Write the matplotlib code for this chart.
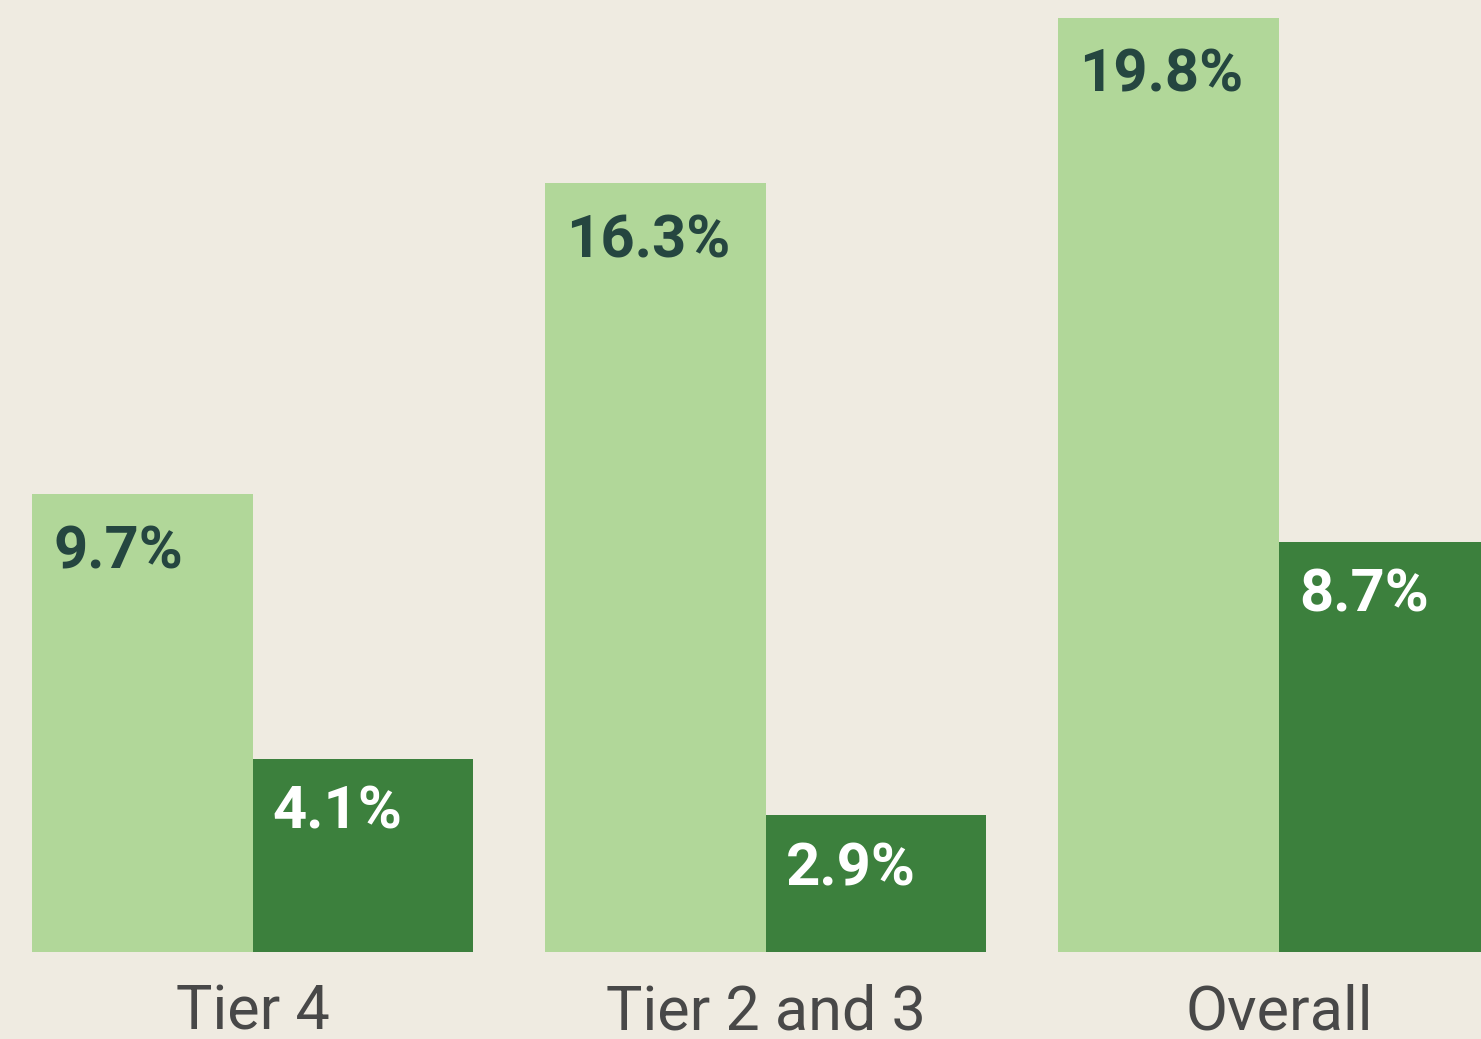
import numpy as np
import matplotlib.pyplot as plt

categories = ['Tier 4', 'Tier 2 and 3', 'Overall']
light_vals = [9.7, 16.3, 19.8]
dark_vals = [4.1, 2.9, 8.7]

bg = '#efebe1'
light_col = '#b1d799'
dark_col = '#3c803d'

fig = plt.figure(figsize=(14.81, 10.39), dpi=100, facecolor=bg)
ax = fig.add_axes([0, 87/1039, 1, 952/1039])
ax.set_facecolor(bg)

x = np.arange(len(categories))
w = 0.43
ax.bar(x - w, light_vals, width=w, align='edge', color=light_col, linewidth=0)
ax.bar(x, dark_vals, width=w, align='edge', color=dark_col, linewidth=0)

for i in range(len(categories)):
    ax.annotate(f'{light_vals[i]}%', xy=(x[i] - w, light_vals[i]), xytext=(21, -74),
                textcoords='offset pixels', ha='left', va='baseline',
                fontsize=43, fontfamily='Roboto', fontweight='bold', color='#254640')
    ax.annotate(f'{dark_vals[i]}%', xy=(x[i], dark_vals[i]), xytext=(20, -70),
                textcoords='offset pixels', ha='left', va='baseline',
                fontsize=43, fontfamily='Roboto', fontweight='bold', color='white')
    ax.annotate(categories[i], xy=(x[i], 0), xytext=(0, -77),
                textcoords='offset pixels', ha='center', va='baseline',
                fontsize=44, fontfamily='Roboto', fontweight='normal', color='#484848',
                annotation_clip=False)

ax.set_xlim(-0.493, 2.394)
ax.set_ylim(0, 20.18)
ax.set_xticks([])
ax.set_yticks([])
for s in ax.spines.values():
    s.set_visible(False)

fig.savefig('out.png', dpi=100, facecolor=bg)
